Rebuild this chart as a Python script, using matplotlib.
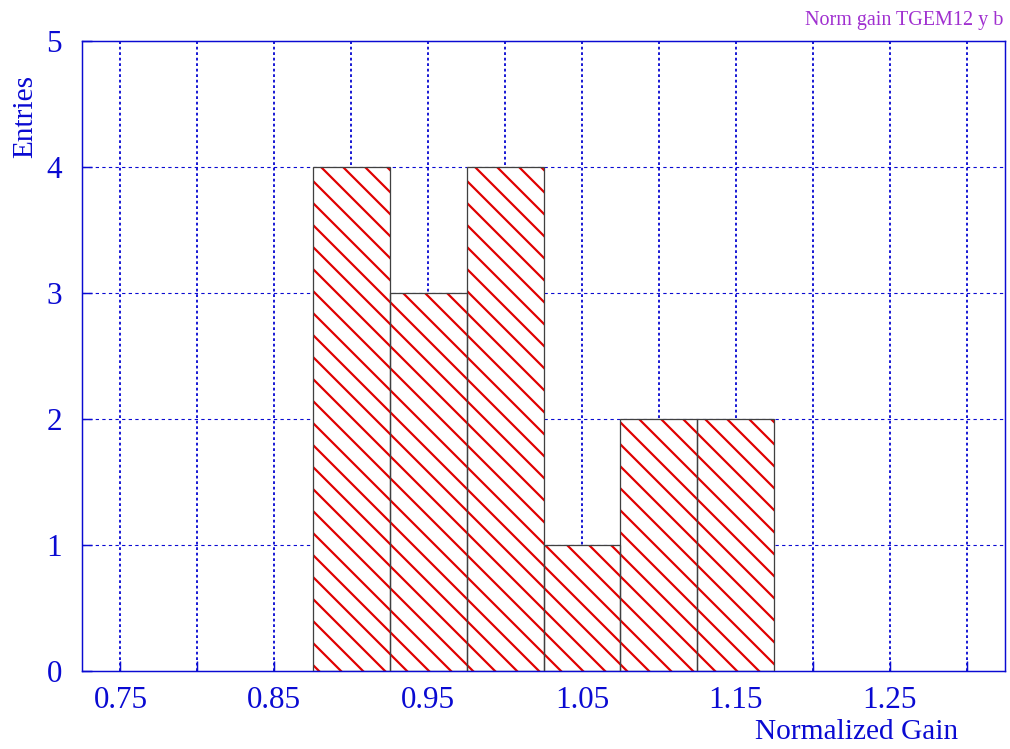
import numpy as np
import matplotlib
matplotlib.use('Agg')
import matplotlib.pyplot as plt

# datos del histograma
bin_centers = [0.90, 0.95, 1.00, 1.05, 1.10, 1.15]
counts = [4, 3, 4, 1, 2, 2]
bin_width = 0.05
x_ticks = [0.75, 0.80, 0.85, 0.90, 0.95, 1.00, 1.05, 1.10, 1.15, 1.20, 1.25, 1.30]
x_labels = ['0.75', '', '0.85', '', '0.95', '', '1.05', '', '1.15', '', '1.25', '']
y_ticks = [0, 1, 2, 3, 4, 5]

blue = '#0a0ad2'
dpi = 132
plt.rcParams['font.family'] = ['Liberation Serif', 'DejaVu Serif']
plt.rcParams['hatch.linewidth'] = 1.2

fig = plt.figure(figsize=(1010 / dpi, 749 / dpi), dpi=dpi)
ax = fig.add_axes([82 / 1010, 78 / 749, 923 / 1010, 630 / 749])

# rejilla
for xv in x_ticks:
    ax.axvline(xv, color=blue, lw=1.0, ls=(0, (1.5, 1.5)), zorder=0)
for yv in y_ticks[1:-1]:
    ax.axhline(yv, color=blue, lw=0.6, ls=(0, (3, 3)), zorder=0)

# barras con relleno rayado rojo y borde gris
ax.bar(bin_centers, counts, width=bin_width, color='white', edgecolor='#e00000',
       hatch='\\\\', linewidth=0, zorder=2)
ax.bar(bin_centers, counts, width=bin_width, fill=False, edgecolor='#404040',
       linewidth=0.7, zorder=3)

ax.set_xlim(0.725, 1.325)
ax.set_ylim(0, 5)
ax.set_xticks(x_ticks)
ax.set_xticklabels(x_labels)
ax.set_yticks(y_ticks)
ax.tick_params(direction='in', length=5.5, width=0.8, color=blue, labelcolor=blue,
               labelsize=17)
ax.tick_params(axis='x', pad=8)
ax.tick_params(axis='y', pad=11)
for s in ax.spines.values():
    s.set_color(blue)
    s.set_linewidth(0.8)

fig.text(25 / 1010, 1 - 75 / 749, 'Entries', rotation=90, ha='center', va='top',
         color=blue, fontsize=16)
fig.text(958 / 1010, 1 - 732 / 749, 'Normalized Gain', ha='right', va='center',
         color=blue, fontsize=16)
fig.text(1003 / 1010, 1 - 20 / 749, 'Norm gain TGEM12 y b', ha='right', va='center',
         color='#a030d0', fontsize=11)

fig.savefig('out.png', dpi=dpi)
